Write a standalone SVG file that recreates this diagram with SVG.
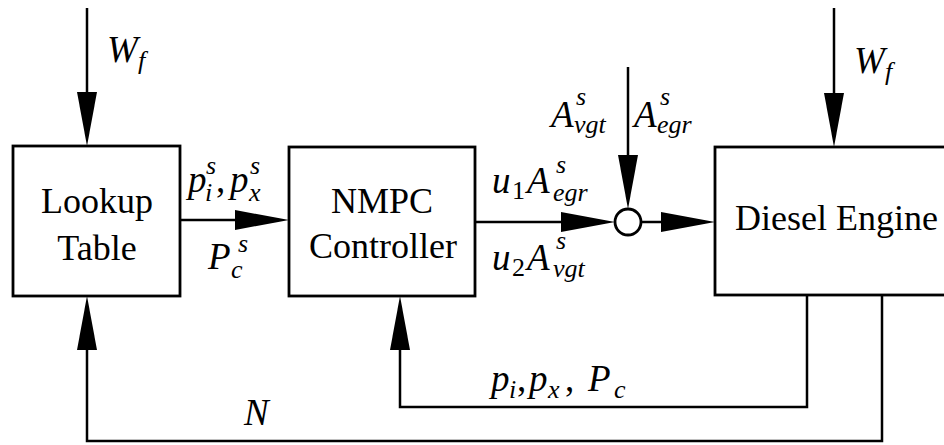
<svg xmlns="http://www.w3.org/2000/svg" width="944" height="445" viewBox="0 0 944 445" font-family="Liberation Serif, Times New Roman, DejaVu Serif, serif">
  <style>
    .box { fill: #fff; stroke: #000; stroke-width: 2.8; }
    .lbl { font-size: 36px; fill: #000; }
    .m { font-style: italic; font-size: 37px; fill: #000; }
    .s { font-size: 26px; }
    .up { font-style: normal; }
    .wire { fill: none; stroke: #000; stroke-width: 2.5; }
  </style>
  <defs>
    <marker id="ah" viewBox="0 0 54 20" refX="44" refY="10" markerWidth="54" markerHeight="20" markerUnits="userSpaceOnUse" orient="auto">
      <path d="M0,0 L54,10 L0,20 Z" fill="#000"/>
    </marker>
  </defs>
  <rect width="944" height="445" fill="#fff"/>

  <g id="connectors">
    <line class="wire" x1="87" y1="8" x2="87" y2="136" marker-end="url(#ah)"/>
    <line class="wire" x1="834" y1="8" x2="834" y2="137" marker-end="url(#ah)"/>
    <line class="wire" x1="180" y1="220" x2="279" y2="220" marker-end="url(#ah)"/>
    <line class="wire" x1="475" y1="222" x2="605" y2="222" marker-end="url(#ah)"/>
    <line class="wire" x1="641" y1="222" x2="705" y2="222" marker-end="url(#ah)"/>
    <line class="wire" x1="628" y1="67" x2="628" y2="199" marker-end="url(#ah)"/>
    <path class="wire" d="M807,296 V407 H400 V306" marker-end="url(#ah)"/>
    <path class="wire" d="M882,296 V441 H87 V306" marker-end="url(#ah)"/>
  </g>

  <g id="lookup">
    <rect class="box" x="13" y="146" width="167" height="150"/>
    <text class="lbl" x="97" y="213" text-anchor="middle" font-family="Liberation Serif, serif">Lookup</text>
    <text class="lbl" x="97" y="260" text-anchor="middle" font-family="Liberation Serif, serif">Table</text>
  </g>

  <g id="nmpc">
    <rect class="box" x="289" y="147" width="186" height="149"/>
    <text class="lbl" x="382" y="213" text-anchor="middle" font-family="Liberation Serif, serif">NMPC</text>
    <text class="lbl" x="383" y="258" text-anchor="middle" font-family="Liberation Serif, serif">Controller</text>
  </g>

  <g id="engine">
    <rect class="box" x="715" y="147" width="240" height="148"/>
    <text class="lbl" x="735" y="230" font-family="Liberation Serif, serif">Diesel Engine</text>
  </g>

  <g id="sum">
    <circle cx="628" cy="222" r="13" fill="#fff" stroke="#000" stroke-width="2.8"/>
  </g>

  <g id="labels" font-family="Liberation Serif, serif">
    <text class="m"><tspan x="107" y="62">W</tspan><tspan class="s" x="138" y="69">f</tspan></text>
    <text class="m"><tspan x="854" y="73">W</tspan><tspan class="s" x="885" y="80">f</tspan></text>

    <text class="m"><tspan x="551" y="127">A</tspan><tspan class="s" x="576" y="105">s</tspan><tspan class="s" x="574" y="133">vgt</tspan></text>
    <text class="m"><tspan x="634" y="127">A</tspan><tspan class="s" x="660" y="105">s</tspan><tspan class="s" x="657" y="133">egr</tspan></text>

    <text class="m"><tspan x="188" y="192">p</tspan><tspan class="s" x="206" y="174">s</tspan><tspan class="s" x="205" y="201">i</tspan><tspan class="up" x="216" y="192">,</tspan><tspan x="230" y="192">p</tspan><tspan class="s" x="250" y="174">s</tspan><tspan class="s" x="249" y="201">x</tspan></text>
    <text class="m"><tspan x="208" y="269">P</tspan><tspan class="s" x="238" y="252">s</tspan><tspan class="s" x="231" y="278">c</tspan></text>

    <text class="m"><tspan x="492" y="193">u</tspan><tspan class="s up" x="512" y="199">1</tspan><tspan x="527" y="193">A</tspan><tspan class="s" x="556" y="173">s</tspan><tspan class="s" x="553" y="201">egr</tspan></text>
    <text class="m"><tspan x="492" y="270">u</tspan><tspan class="s up" x="512" y="276">2</tspan><tspan x="527" y="270">A</tspan><tspan class="s" x="556" y="249">s</tspan><tspan class="s" x="553" y="277">vgt</tspan></text>

    <text class="m"><tspan x="491" y="391">p</tspan><tspan class="s" x="509" y="398">i</tspan><tspan class="up" x="517" y="391">,</tspan><tspan x="529" y="391">p</tspan><tspan class="s" x="548" y="398">x</tspan><tspan class="up" x="565" y="391">,</tspan><tspan x="588" y="391">P</tspan><tspan class="s" x="614" y="398">c</tspan></text>

    <text class="m" x="244" y="425">N</text>
  </g>
</svg>
